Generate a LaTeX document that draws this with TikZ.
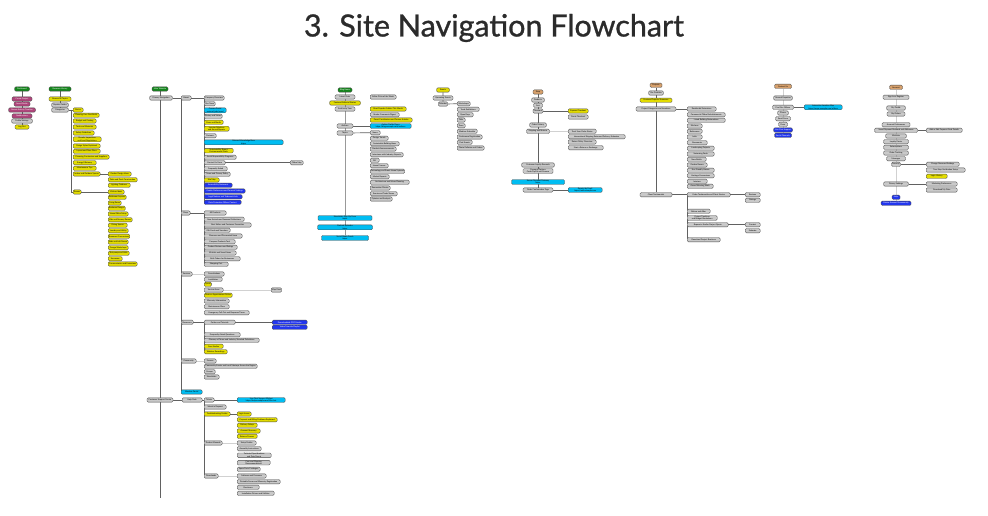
\documentclass[tikz,border=0pt]{standalone}
\usepackage{fontspec}
\setmainfont{Lato}
\newfontfamily\titlefont[FakeBold=0.9]{Lato}
\usetikzlibrary{backgrounds}
\definecolor{navgray}{HTML}{C9C9C9}
\definecolor{navyellow}{HTML}{E3DC00}
\definecolor{navcyan}{HTML}{00BDF2}
\definecolor{navblue}{HTML}{2236EE}
\definecolor{navpink}{HTML}{B0457C}
\definecolor{navgreen}{HTML}{14861C}
\definecolor{navtan}{HTML}{D6A06C}

\begin{document}
\begin{tikzpicture}[x=1pt,y=-1pt,
    navbox/.style={draw=black!70, line width=0.35pt, rounded corners=1.2pt, inner xsep=0.8pt, inner ysep=0.4pt,
      minimum height=4.3pt, anchor=west, align=center, font=\fontsize{2}{2.3}\selectfont},
    boxg/.style={navbox, fill=navgray},
    boxy/.style={navbox, fill=navyellow},
    boxc/.style={navbox, fill=navcyan},
    boxb/.style={navbox, fill=navblue, text=white},
    boxp/.style={navbox, fill=navpink, text=white},
    boxgr/.style={navbox, fill=navgreen, text=white},
    boxt/.style={navbox, fill=navtan},
    conn/.style={draw=black!62, line width=0.7pt},
    faint/.style={draw=black!18, line width=0.7pt}]
    \useasboundingbox (0,0) rectangle (988,516);
    \node[font=\titlefont\fontsize{30.5}{31}\selectfont, text=black!83] (title) at (494,28) {3. Site Navigation Flowchart};

    % dashboard
    \node[boxgr, anchor=center, minimum width=15pt] (t1r) at (22,89) {Dashboard};
    \foreach \s/\y/\w/\t [count=\i] in {p/99/20/Create Project, p/104/16/Saved Drafts, p/110/27/Recent Activity Timeline,
        p/116/20/Notifications, g/121/21/Profile Settings, y/127/14/Log Out}
      \node[box\s, anchor=center, minimum width=\w pt] (t1n\i) at (22,\y) {\t};

    % resource library
    \node[boxgr, anchor=center, minimum width=22pt] (t2r) at (60,89) {Resource Library};
    \foreach \s/\y/\w/\t [count=\i] in {y/99/22/Browse All Topics, g/105/17/Popular Guides, g/110/17/Categories}
      \node[box\s, anchor=center, minimum width=\w pt] (t2n\i) at (60,\y) {\t};
    \foreach \y/\w/\t [count=\i] in {110/10/Basics, 115.3/26/Planning Your First Build, 121/23/Budget and Costing,
        127/23/Tools and Materials, 133/21/Safety Guidelines, 139.3/28/Permits Inspections\\and Local Regulations,
        146/27/Design Styles Explained, 151.3/27/Layout and Floor Plans, 157/36/Choosing Contractors and Suppliers,
        162.7/23/Energy Efficiency, 168.3/23/Maintenance Tips, 174/27/Indoor and Outdoor Spaces, 192/8/Rooms}
      \node[boxy, minimum width=\w pt] (t2a\i) at (73,\y) {\t};
    \foreach \y/\w/\t [count=\i] in {174/23/Garden Design Ideas, 179.7/29/Patio and Deck Construction, 185.3/22/Lighting Outdoors}
      \node[boxy, minimum width=\w pt] (t2b\i) at (108,\y) {\t};
    \foreach \y/\w/\t [count=\i] in {192/16/Kitchen Ideas, 197.3/18/Bathroom Layouts, 203/13/Living Room,
        208.3/17/Bedroom Designs, 214/20/Home Office Setup, 219.7/24/Kids and Nursery Rooms, 225.3/19/Dining Spaces,
        230.7/20/Laundry and Utility, 236.3/21/Basement Conversions, 242/20/Attic and Loft Rooms, 247.7/20/Garage Workshops,
        253.3/21/Entryways and Halls, 258.7/14/Sunrooms, 264/29/Conservatories and Extensions}
      \node[boxy, minimum width=\w pt] (t2c\i) at (108,\y) {\t};

    % main website
    \node[boxgr, anchor=center, minimum width=16pt] (t3r) at (160,89) {Main Website};
    \node[boxg, anchor=center, minimum width=23pt] (t3a) at (161,98) {Primary Navigation};
    \coordinate (t3end) at (160,498);
    \foreach \s/\y/\w/\t [count=\i] in {g/98/10/About, g/213/9/Shop, g/274/11/Services, g/322.3/12/Resources,
        g/361/15/Community, c/392/21/Member Portal}
      \node[box\s, minimum width=\w pt] (sec\i) at (181,\y) {\t};
    \foreach \s/\y/\w/\t [count=\i] in {g/98/20/Company Overview, g/103.7/11/Our Team,
        c/110.3/22/Careers Portal\\external jobs board, g/116.3/18/History and Values, y/122.3/19/Press and Media,
        y/128.7/25/Investor Relations\\and Annual Reports, g/135.7/12/Partners,
        c/142.3/79/External Knowledge Base\\https://support.example.com/knowledge-base/articles/getting-started/index,
        y/150.7/29/Sustainability Report\\Environmental Goals, g/157.3/32/Social Responsibility Programs,
        g/162.7/21/Contact Us Form, g/168.7/23/Frequently Asked, g/174.3/26/Terms and Privacy Policy,
        y/180/15/Site Map, b/185.3/28/Accessibility Statement, b/191/41/Cookie Preferences and Consent Settings,
        b/196.7/38/Legal Notices and Trademark Info, b/202.3/37/Data Protection Officer Contact}
      \node[box\s, minimum width=\w pt] (s1c\i) at (204,\y) {\t};
    \node[boxg, minimum width=13pt] (s1x) at (290,162.7) {Office Map};
    \foreach \y/\w/\t [count=\i] in {213/22/All Products, 219.3/40/New Arrivals and Seasonal Collections,
        225/47/Best Sellers and Customer Favourites, 230.3/26/Gift Cards and Vouchers, 236/38/Clearance and Discounted Items,
        241.7/31/Compare Products Tool, 247.3/33/Product Reviews and Ratings, 253/32/Wishlist and Saved Items,
        258.7/36/Bulk Orders for Businesses, 264.3/24/Shopping Cart}
      \node[boxg, minimum width=\w pt] (s2c\i) at (204,\y) {\t};
    \foreach \s/\y/\w/\t [count=\i] in {g/274/20/Consultations, g/279.3/18/Installation, y/284.3/6/Quote,
        g/290/19/Service Areas, y/295.3/28/Book an Appointment Online, g/301/25/Warranty Information,
        g/306.7/25/Maintenance Plans, g/312.7/45/Emergency Call-Out and Response Times}
      \node[box\s, minimum width=\w pt] (s3c\i) at (204,\y) {\t};
    \node[boxg, minimum width=10pt] (s3x) at (271,290) {Map View};
    \foreach \s/\y/\w/\t [count=\i] in {g/322.3/31/Guides and Tutorials, g/334.7/36/Frequently Asked Questions,
        g/340.3/55/Glossary of Terms and Industry Standard Definitions, y/346.3/19/Case Studies, y/351.7/23/Webinar Recordings}
      \node[box\s, minimum width=\w pt] (s4c\i) at (204,\y) {\t};
    \node[boxb, minimum width=35pt] (s4x1) at (272,322.3) {Downloadable PDF Guides};
    \node[boxb, minimum width=35pt] (s4x2) at (272,327.3) {Video Tutorials Playlist};
    \foreach \y/\w/\t [count=\i] in {361/12/Forums, 366.3/53/Community Events and Local Meetups Across the Region,
        371.7/11/Groups, 377/15/Newsletter}
      \node[boxg, minimum width=\w pt] (s5c\i) at (204,\y) {\t};
    \node[boxg, anchor=center, minimum width=26pt] (t3b) at (160,400) {Customer Support Centre};
    \node[boxg, minimum width=20pt] (t3c) at (182,400) {Help Desk};
    \node[boxg, minimum width=10pt] (t3d) at (204,400) {Tickets};
    \node[boxc, minimum width=48pt] (t3e) at (237,400) {Live Chat Support Widget\\https://help.example.com/live-chat};
    \foreach \s/\y/\w/\t [count=\i] in {g/407/22/Submit a Request, y/414/26/Troubleshooting Guides,
        g/443/18/Product Manuals, g/476/14/Downloads}
      \node[box\s, minimum width=\w pt] (t3k\i) at (204,\y) {\t};
    \foreach \y/\w/\t [count=\i] in {414/14/Login Issues, 419.7/40/Payment and Billing Problems Explained,
        425.3/20/Delivery Delays, 431/23/Account Recovery, 436.3/20/Returns Process}
      \node[boxy, minimum width=\w pt] (t3y\i) at (237,\y) {\t};
    \foreach \y/\w/\t [count=\i] in {443/19/Setup Guides, 448.7/24/Assembly Instructions,
        455.3/34/Technical Specifications\\and Data Sheets, 462.7/33/Care and Cleaning\\Recommendations,
        469.3/23/Spare Parts Catalogue}
      \node[boxg, minimum width=\w pt] (t3m\i) at (237,\y) {\t};
    \foreach \y/\w/\t [count=\i] in {476/29/Software and Firmware, 481.7/43/Printable Forms and Warranty Registration,
        487.3/22/Brochures, 493.3/37/Installation Drivers and Utilities}
      \node[boxg, minimum width=\w pt] (t3n\i) at (237,\y) {\t};

    % blog
    \node[boxgr, anchor=center, minimum width=14pt] (t4r) at (345,90) {Blog Home};
    \foreach \s/\y/\w/\t [count=\i] in {g/97/20/Latest Posts, y/103/31/Featured Editorial Stories, g/109/20/Archive by Year,
        g/126/16/Authors, g/133/16/Topics}
      \node[box\s, anchor=center, minimum width=\w pt] (t4n\i) at (345,\y) {\t};
    \node[boxc, minimum width=41pt] (t4cy) at (370,126) {Author Profile Pages\\https://blog.example.com/authors};
    \foreach \s/\y/\w/\t [count=\i] in {g/97/26/Editor Picks of the Week, y/109/36/Most Popular Articles This Month,
        g/114.7/29/Reader Comments Digest, y/120/42/Guest Contributors and Partner Articles}
      \node[box\s, minimum width=\w pt] (t4e\i) at (370,\y) {\t};
    \foreach \y/\w/\t [count=\i] in {132.7/10/News, 138.3/18/Design Trends, 143.7/29/Sustainable Building Ideas,
        149/26/Product Announcements, 154.7/33/Interviews with Industry Experts, 160.3/9/DIY, 165.7/18/Home Finance,
        171.3/33/Technology and Smart Home Systems, 176.7/19/Market Reports, 182.3/39/Architecture and Urban Planning,
        188/20/Renovation Diaries, 193.7/27/Events and Trade Shows, 199/22/Opinion and Analysis}
      \node[boxg, minimum width=\w pt] (t4k\i) at (370,\y) {\t};
    \foreach \y/\w/\t [count=\i] in {218/54/Newsletter Sign-Up Form\\https://newsletter.example.com/subscribe?source=blog,
        227.3/55/Podcast Episodes\\https://podcast.example.com/episodes/latest-releases,
        238/47/Social Media Feeds\\https://social.example.com/company-page}
      \node[boxc, anchor=center, minimum width=\w pt] (t4z\i) at (345,\y) {\t};

    % events
    \node[boxy, anchor=center, minimum width=13pt] (t5r) at (443,90) {Events};
    \node[boxg, anchor=center, minimum width=20pt] (t5n1) at (443,98) {Upcoming Events};
    \node[boxg, anchor=center, minimum width=9pt] (t5n2) at (443,104) {Calendar};
    \foreach \y/\w/\t [count=\i] in {103.7/13/Workshops, 109.3/22/Trade Exhibitions, 114.7/16/Open Days, 120/8/Talks,
        125.7/8/Tours, 131.3/20/Webinar Schedule, 137/25/Conference Registration, 142.3/15/Past Events,
        148/27/Photo Galleries and Videos}
      \node[boxg, minimum width=\w pt] (t5k\i) at (457,\y) {\t};

    % shop
    \node[boxt, anchor=center, minimum width=10pt] (t6r) at (538,92) {Shop};
    \foreach \s/\y/\w/\t [count=\i] in {g/100/13/Products, g/105.3/9/Cart, g/111/10/Checkout, g/125/17/Order History,
        g/131.3/23/Shipping and Returns, g/165/33/Customer Loyalty Rewards, g/171/30/Payment Options\\Cards PayPal and Finance,
        c/182/53/Secure Payment Gateway\\https://pay.example.com/checkout/secure-gateway, g/190/30/Order Confirmation Page}
      \node[box\s, anchor=center, minimum width=\w pt] (t6n\i) at (538,\y) {\t};
    \node[boxy, minimum width=20pt] (t6y1) at (568,111) {Express Checkout};
    \node[boxg, minimum width=20pt] (t6y2) at (568,117) {Guest Checkout};
    \foreach \y/\w/\t [count=\i] in {131.3/28/Track Your Order Status, 136.7/57/International Shipping Rates and Delivery Estimates,
        142/28/Return Policy Overview, 147.7/35/Start a Return or Exchange}
      \node[boxg, minimum width=\w pt] (t6k\i) at (568,\y) {\t};
    \node[boxc, minimum width=34pt] (t6e) at (568,190) {Receipt by Email\\https://mail.example.com};

    % projects
    \node[boxt, anchor=center, minimum width=12pt] (t7r) at (656,85.3) {Projects};
    \foreach \s/\y/\w/\t [count=\i] in {g/93/15/Our Portfolio, y/100.3/32/Featured Projects Showcase,
        g/109/40/Project Categories and Locations, g/194.7/32/Client Testimonials}
      \node[box\s, anchor=center, minimum width=\w pt] (t7n\i) at (656,\y) {\t};
    \foreach \y/\w/\t [count=\i] in {109/29/Residential Extensions, 114.7/38/Commercial Office Refurbishments,
        120.3/38/Listed Building Restorations, 126/15/Kitchens, 131.3/15/Bathrooms, 137/15/Lofts, 142.7/20/Basements,
        148.3/27/Landscaping Projects, 154/27/Swimming Pools, 159.3/19/New Builds, 165/20/Garden Rooms,
        170.3/27/Eco-Friendly Homes, 175.7/27/Heritage Conversions, 181.3/20/Interiors, 186.3/26/Award Winning Work}
      \node[boxg, minimum width=\w pt] (t7k\i) at (687,\y) {\t};
    \node[boxg, minimum width=43pt] (t7p) at (687,194.7) {Video Testimonials and Client Stories};
    \node[boxg, minimum width=15pt] (t7q1) at (745,194.7) {Reviews};
    \node[boxg, minimum width=15pt] (t7q2) at (745,200.3) {Ratings};
    \foreach \y/\w/\t [count=\i] in {211.3/23/Before and After, 218/30/Project Timelines\\and Budget Breakdown,
        224.7/41/Request a Similar Project Quote, 239.7/33/Download Project Brochure}
      \node[boxg, minimum width=\w pt] (t7s\i) at (687,\y) {\t};
    \node[boxg, minimum width=15pt] (t7u1) at (745,224.7) {Contact};
    \node[boxg, minimum width=15pt] (t7u2) at (745,230.7) {Estimate};

    % contact
    \node[boxt, anchor=center, minimum width=17pt] (t8r) at (783,86.3) {Contact Us};
    \foreach \s/\y/\w/\t [count=\i] in {g/98/19/General Enquiries, g/107.3/21/Find Our Offices, g/113/11/Phone,
        g/118.7/15/Email Form, g/124.3/9/Press, b/130/19/Live Chat Support, b/135.3/17/Social Channels}
      \node[box\s, anchor=center, minimum width=\w pt] (t8n\i) at (783,\y) {\t};
    \node[boxc, minimum width=38pt] (t8cy) at (804,107.3) {Interactive Location Map\\https://maps.example.com/offices};

    % account
    \node[boxt, anchor=center, minimum width=13pt] (t9r) at (896,87.3) {Account};
    \foreach \s/\y/\w/\t [count=\i] in {g/97.3/26/Sign In or Register, g/108/19/My Profile, g/114/18/My Orders,
        g/124.7/28/Account Preferences, g/130.3/43/Saved Payment Methods and Addresses, g/136/21/Wishlists,
        g/141.7/25/Loyalty Points, g/147.3/25/Subscriptions, g/153/25/Order Tracking, g/158.7/19/Messages,
        g/164.3/9/Security, g/184/25/Privacy Settings, b/197.3/8/Help, b/203.3/30/Delete Account Permanently}
      \node[box\s, anchor=center, minimum width=\w pt] (t9n\i) at (896,\y) {\t};
    \node[boxg, minimum width=36pt] (t9x) at (926,130.3) {Add or Edit Payment Card Details};
    \foreach \s/\y/\w/\t [count=\i] in {g/164.3/33/Change Password Settings, g/170/39/Two-Step Verification Setup,
        y/176.3/21/Login History}
      \node[box\s, minimum width=\w pt] (t9k\i) at (926,\y) {\t};
    \node[boxg, minimum width=31pt] (t9m1) at (926,184) {Marketing Preferences};
    \node[boxg, minimum width=31pt] (t9m2) at (926,190) {Download My Data};

    \begin{scope}[on background layer]
        \fill[white] (0,0) rectangle (988,516);
        % dashboard and library
        \draw[conn] (t1r) -- (t1n6);
        \draw[conn] (t2r) -- (t2n3) -- (t2a1);
        \draw[conn] ([xshift=-1.5pt]t2a1.west) |- (t2a13.west);
        \draw[conn] (t2a12) -- (t2b1);
        \draw[conn] (t2a13) -- (t2c1);
        % main website
        \draw[conn] (t3r) -- (t3end);
        \draw[conn] (t3a) -- (sec1);
        \draw[conn] ([xshift=0.6pt]sec1.west) -- ([xshift=0.6pt]sec6.west);
        \draw[conn] (sec1) -- (s1c1);
        \draw[conn] ([xshift=0.6pt]s1c1.west) -- ([xshift=0.6pt]s1c18.west);
        \draw[conn] (s1c11) -- (s1x);
        \draw[conn] (sec2) -- (s2c1);
        \draw[conn] ([xshift=0.6pt]s2c1.west) -- ([xshift=0.6pt]s2c10.west);
        \draw[faint] (sec3) -- (s3c1);
        \draw[faint] (s3c4) -- (s3x);
        \draw[conn] (sec4) -- (s4c1) -- (s4x1);
        \draw[conn] ([xshift=0.6pt]s4c1.west) -- ([xshift=0.6pt]s4c5.west);
        \draw[faint] (sec5) -- (s5c1);
        \draw[conn] (t3b) -- (t3c) -- (t3d) -- (t3e);
        \draw[conn] ([xshift=0.6pt]t3d.west) -- ([xshift=0.6pt]t3k4.west);
        \draw[conn] (t3k2) -- (t3y1);
        \draw[faint] (t3k3) -- (t3m1);
        \draw[faint] (t3k4) -- (t3n1);
        % blog and events
        \draw[draw=black!40, line width=0.7pt] (t4r) -- (t4z3);
        \draw[conn] (t4n4) -- (t4cy);
        \draw[conn] (t4n5) -- (t4k1);
        \draw[conn] (t5r) -- (t5n2) -- (t5k1);
        % shop
        \draw[conn] (t6r) -- (t6n9);
        \draw[conn] (t6n3) -- (t6y1);
        \draw[faint] (t6n5) -- (t6k1);
        \draw[conn] (t6n9) -- (t6e);
        % projects
        \draw[conn] (t7r) -- (t7n4);
        \draw[conn] (t7n3) -- (t7k1);
        \draw[conn] (t7n4) -- (t7p) -- (t7q1);
        \draw[conn] ([xshift=0.6pt]t7p.west) -- ([xshift=0.6pt]t7s4.west);
        \draw[conn] (t7s3) -- (t7u1);
        % contact and account
        \draw[faint] (t8r) -- (t8n7);
        \draw[conn] (t8n2) -- (t8cy);
        \draw[faint] (t9r) -- (t9n14);
        \draw[conn] (t9n5) -- (t9x);
        \draw[conn] (t9n11) -- (t9k1);
        \draw[conn] (t9n12) -- (t9m1);
    \end{scope}
\end{tikzpicture}
\end{document}
